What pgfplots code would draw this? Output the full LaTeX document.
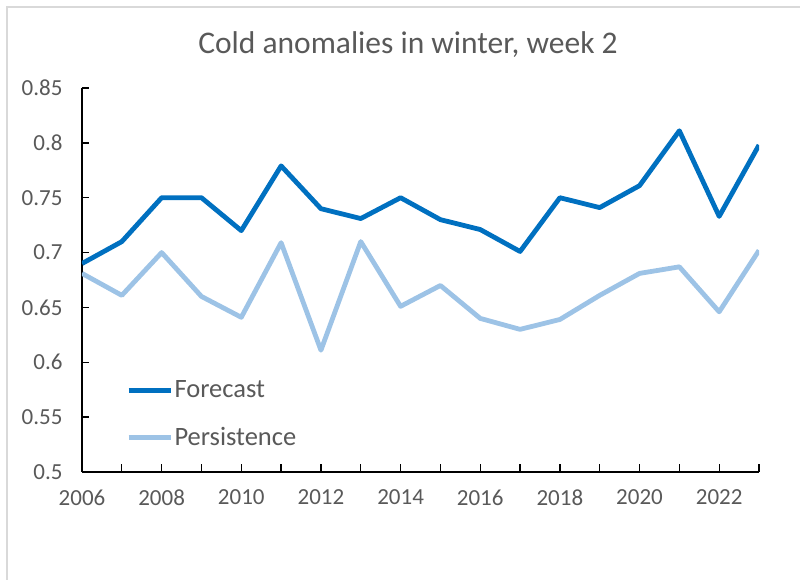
\documentclass[border=0pt]{standalone}
\usepackage{pgfplots}
\pgfplotsset{compat=1.18}
\usepackage{fontspec}
\setmainfont{Carlito}
\definecolor{fcast}{HTML}{0070C0}
\definecolor{pers}{HTML}{9DC3E6}
\definecolor{txt}{HTML}{595959}
\definecolor{framegray}{HTML}{D9D9D9}

\begin{document}
\begin{tikzpicture}
\useasboundingbox (-82pt,-108pt) rectangle (718pt,472pt);
% outer chart frame (only left and top edges are in view)
\draw[framegray, line width=2pt] (-75pt,-108pt) -- (-75pt,465pt) -- (718pt,465pt);
\begin{axis}[
    at={(0pt,0pt)}, anchor=south west,
    scale only axis, width=677pt, height=384pt,
    xmin=2006, xmax=2023, ymin=0.5, ymax=0.85,
    axis x line*=bottom, axis y line*=left,
    axis line style={black, line width=1.6pt, -},
    xtick={2006,2008,...,2022},
    minor xtick={2007,2009,...,2023},
    ytick={0.5,0.55,0.6,0.65,0.7,0.75,0.8,0.85},
    tick align=inside,
    major tick length=7.5pt, minor tick length=7.5pt,
    every tick/.style={black, line width=1.3pt},
    minor tick style={black, line width=1.3pt},
    /pgf/number format/assume math mode=true,
    ticklabel style={font=\fontsize{23}{27}\selectfont, text=txt},
    xticklabel style={yshift=-14pt, /pgf/number format/1000 sep={}},
    yticklabel style={xshift=-16pt},
    legend style={at={(0.065,0.151)}, anchor=west, draw=none, fill=none,
        inner sep=0pt, font=\fontsize{26.5}{30}\selectfont, text=txt,
        row sep=25pt, nodes={inner sep=1.5pt}},
    legend cell align=left,
    legend image code/.code={\draw[#1] (0pt,0pt) -- (42pt,0pt);},
]
\addplot[fcast, line width=4.8pt, line join=round] coordinates {
    (2006,0.690) (2007,0.710) (2008,0.750) (2009,0.750) (2010,0.720)
    (2011,0.779) (2012,0.740) (2013,0.731) (2014,0.750) (2015,0.730)
    (2016,0.721) (2017,0.701) (2018,0.750) (2019,0.741) (2020,0.761)
    (2021,0.811) (2022,0.733) (2023,0.798)};
\addlegendentry{Forecast}
\addplot[pers, line width=4.8pt, line join=round] coordinates {
    (2006,0.681) (2007,0.661) (2008,0.700) (2009,0.660) (2010,0.641)
    (2011,0.709) (2012,0.611) (2013,0.710) (2014,0.651) (2015,0.670)
    (2016,0.640) (2017,0.630) (2018,0.639) (2019,0.661) (2020,0.681)
    (2021,0.687) (2022,0.646) (2023,0.702)};
\addlegendentry{Persistence}
\end{axis}
\node[font=\fontsize{31.5}{36}\selectfont, text=txt] at (326pt,427pt) {Cold anomalies in winter, week 2};
\end{tikzpicture}
\end{document}
